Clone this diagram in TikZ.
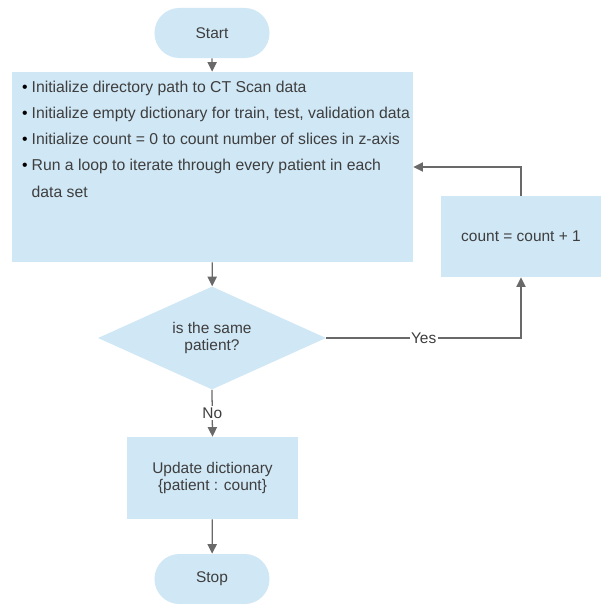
\documentclass[tikz,border=0pt]{standalone}
\usepackage{fontspec}
\setmainfont{Liberation Sans}
\usetikzlibrary{shapes, arrows.meta, positioning, calc}
\definecolor{flowblue}{RGB}{208, 231, 245}
\definecolor{linegray}{RGB}{105, 105, 105}
\definecolor{textgray}{RGB}{62, 62, 62}

\begin{document}
\begin{tikzpicture}[
    x=0.025cm, y=-0.025cm,
    >=Triangle,
    termnode/.style={fill=flowblue, draw=none, rounded corners=0.62cm,
        minimum width=2.875cm, minimum height=1.25cm, text=textgray, font=\fontsize{11}{12.5}\selectfont},
    procnode/.style={fill=flowblue, draw=none, align=center, text=textgray,
        font=\fontsize{11}{12.5}\selectfont},
    decnode/.style={diamond, fill=flowblue, draw=none, aspect=2.2, inner sep=0pt,
        minimum width=5.7cm, minimum height=2.575cm, align=center, text=textgray,
        font=\fontsize{11}{12.5}\selectfont},
    arrow/.style={-{Triangle[length=2.4mm, width=2.3mm]}, line width=0.9pt, draw=linegray},
    lbl/.style={fill=white, inner sep=1pt, text=textgray, font=\fontsize{11}{12.5}\selectfont}
]
    \useasboundingbox (0,0) rectangle (600,604);

    \node[termnode] (start) at (212,33) {Start};

    \node[procnode, minimum width=10.025cm, minimum height=4.75cm, inner sep=0pt] (init) at (212.5,167)
        {\parbox[c][4.3cm][t]{10cm}{\fontsize{11.2}{18.6}\selectfont\raggedright\leftskip=0.24cm
        \hangindent=0.24cm\hangafter=1\noindent\makebox[0.24cm][l]{\color{black}\textbullet}Initialize directory path to CT Scan data\par
        \hangindent=0.24cm\hangafter=1\noindent\makebox[0.24cm][l]{\color{black}\textbullet}Initialize empty dictionary for train, test, validation data\par
        \hangindent=0.24cm\hangafter=1\noindent\makebox[0.24cm][l]{\color{black}\textbullet}Initialize count = 0 to count number of slices in z-axis\par
        \hangindent=0.24cm\hangafter=1\noindent\makebox[0.24cm][l]{\color{black}\textbullet}Run a loop to iterate through every patient in each\newline data set\par}};

    \node[decnode] (same) at (212,338) {is the same\\patient?};

    \node[procnode, minimum width=4cm, minimum height=2.025cm] (count) at (521,236.5) {count = count + 1};

    \node[procnode, minimum width=4.275cm, minimum height=2.05cm] (update) at (212.5,478)
        {Update dictionary\\{\{}patient : count{\}}};

    \node[termnode] (stop) at (212,579) {Stop};

    \draw[arrow] (start) -- (init);
    \draw[arrow] (init) -- (same);
    \draw[arrow] (same.east) -- node[lbl] {Yes} (same.east -| count.south) -- (count.south);
    \draw[arrow] (count.north) |- (init.east);
    \draw[arrow] (same.south) -- node[lbl] {No} (update.north);
    \draw[arrow] (update) -- (stop);
\end{tikzpicture}
\end{document}
